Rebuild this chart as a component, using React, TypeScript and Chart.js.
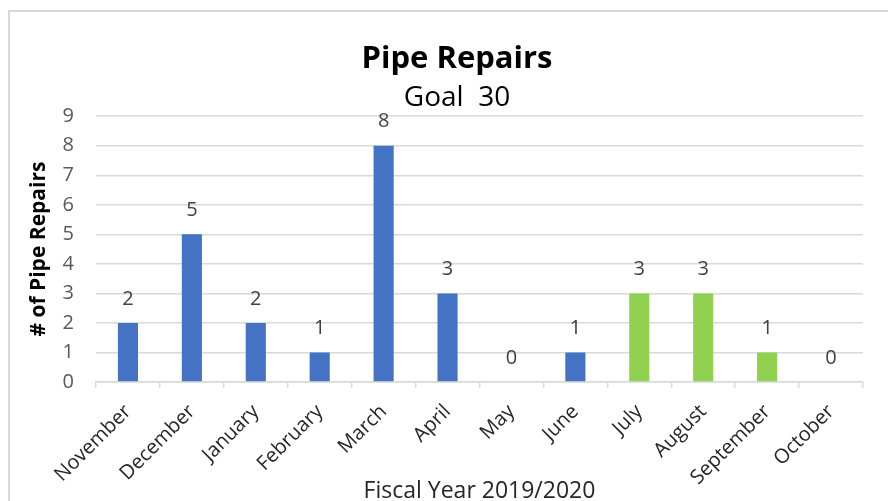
import React, { useEffect, useRef } from "react";
import { Chart, registerables } from "chart.js";

Chart.register(...registerables);

const months = [
  "November", "December", "January", "February", "March", "April",
  "May", "June", "July", "August", "September", "October",
];
const repairs = [2, 5, 2, 1, 8, 3, 0, 1, 3, 3, 1, 0];
const greenStartMonth = "July";
const yTicks = [0, 1, 2, 3, 4, 5, 6, 7, 8, 9];
const chartTitle = "Pipe Repairs";
const chartSubtitle = "Goal  30";
const xTitle = "Fiscal Year 2019/2020";
const yTitle = "# of Pipe Repairs";

const BLUE = "#4472C4";
const GREEN = "#92D050";
const GRID = "#d9d9d9";
const FONT = "'Open Sans', Lato, sans-serif";

const framePlugin = {
  id: "frame",
  beforeDraw(chart: any) {
    const ctx = chart.ctx;
    ctx.save();
    ctx.strokeStyle = GRID;
    ctx.lineWidth = 2;
    ctx.beginPath();
    ctx.moveTo(9, chart.height + 2);
    ctx.lineTo(9, 11);
    ctx.lineTo(chart.width + 2, 11);
    ctx.stroke();
    ctx.restore();
  },
};

const dataLabelPlugin = {
  id: "dataLabels",
  afterDatasetsDraw(chart: any) {
    const ctx = chart.ctx;
    ctx.save();
    ctx.font = `20px ${FONT}`;
    ctx.fillStyle = "#404040";
    ctx.textAlign = "center";
    ctx.textBaseline = "middle";
    chart.data.datasets.forEach((ds: any, di: number) => {
      const meta = chart.getDatasetMeta(di);
      meta.data.forEach((el: any, i: number) => {
        ctx.fillText(String(ds.data[i]), el.x, el.y - 24);
      });
    });
    ctx.restore();
  },
};

export default function App() {
  const ref = useRef<HTMLCanvasElement | null>(null);
  useEffect(() => {
    document.body.style.margin = "0";
    const greenIdx = months.indexOf(greenStartMonth);
    const colors = months.map((_, i) => (i >= greenIdx ? GREEN : BLUE));
    const chart = new Chart(ref.current as HTMLCanvasElement, {
      type: "bar",
      data: {
        labels: months,
        datasets: [
          {
            data: repairs,
            backgroundColor: colors,
            borderWidth: 0,
            categoryPercentage: 1,
            barPercentage: 0.315,
          },
        ],
      },
      options: {
        responsive: false,
        animation: false,
        devicePixelRatio: 1,
        layout: { padding: { left: 51, right: 25, top: 0, bottom: 0 } },
        plugins: {
          legend: { display: false },
          tooltip: { enabled: false },
          title: {
            display: true,
            text: chartTitle,
            color: "#000",
            font: { family: FONT, size: 31, weight: "bold" },
            padding: { top: 41, bottom: 3.4 },
          },
          subtitle: {
            display: true,
            text: chartSubtitle,
            color: "#000",
            font: { family: FONT, size: 28, weight: "normal" },
            padding: { top: 0, bottom: 1 },
          },
        },
        scales: {
          x: {
            grid: {
              display: true,
              drawOnChartArea: false,
              drawTicks: true,
              tickLength: 6,
              color: GRID,
              lineWidth: 1.5,
            },
            border: { display: true, color: GRID, width: 1.5 },
            ticks: {
              color: "#262626",
              font: { family: FONT, size: 20 },
              maxRotation: 45,
              minRotation: 45,
              padding: 12,
            },
            title: {
              display: true,
              text: xTitle,
              color: "#262626",
              font: { family: FONT, size: 23 },
              padding: { top: 0, bottom: -4.5 },
            },
            afterFit(scale: any) {
              scale.height = 119;
            },
          },
          y: {
            min: 0,
            max: 9,
            afterBuildTicks(scale: any) {
              scale.ticks = yTicks.map((v) => ({ value: v }));
            },
            grid: {
              color: GRID,
              lineWidth: 1.5,
              drawTicks: false,
            },
            border: { display: false },
            ticks: {
              color: "#595959",
              font: { family: FONT, size: 20 },
              padding: 22,
            },
            title: {
              display: true,
              text: yTitle,
              color: "#000",
              font: { family: FONT, size: 21, weight: "bold" },
              padding: { top: -24.6, bottom: 0 },
            },
            afterFit(scale: any) {
              scale.width = 45;
            },
          },
        },
      },
      plugins: [framePlugin, dataLabelPlugin],
    });
    return () => chart.destroy();
  }, []);
  return (
    <div style={{ width: 888, height: 501, overflow: "hidden" }}>
      <canvas ref={ref} width={888} height={501} />
    </div>
  );
}
